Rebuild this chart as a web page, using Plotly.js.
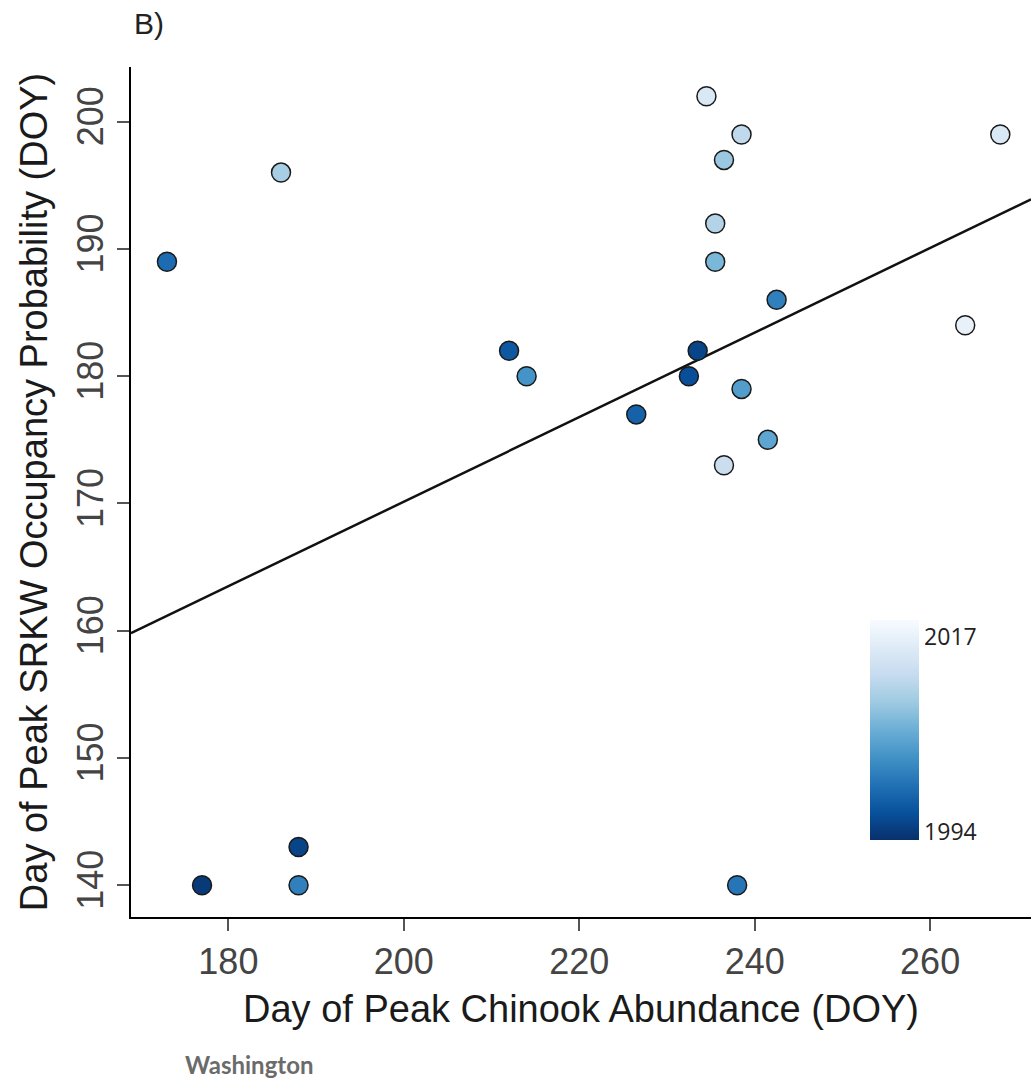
<!DOCTYPE html>
<html>
<head>
<meta charset="utf-8">
<script src="https://cdn.plot.ly/plotly-3.0.1.min.js"></script>
<style>
  html, body { margin: 0; padding: 0; background: #ffffff; }
  #chart { width: 1031px; height: 1078px; }
</style>
</head>
<body>
<div id="chart"></div>
<script>
// Day of peak Chinook abundance (x) and day of peak SRKW occupancy probability (y)
const chinookDOY = [173, 186, 177, 188, 188, 212, 214, 226.5, 232.5, 233.5, 234.5, 238.5, 236.5, 235.5, 235.5, 242.5, 238.5, 241.5, 236.5, 238, 268, 264];
const srkwDOY    = [189, 196, 140, 143, 140, 182, 180, 177,   180,   182,   202,   199,   197,   192,   189,   186,   179,   175,   173,   140, 199, 184];
const years      = [1999, 2010, 1994, 1995, 2001, 1997, 2003, 1998, 1996, 1995, 2015, 2012, 2009, 2011, 2007, 2001, 2004, 2005, 2013, 2000, 2015, 2017];

// Fitted regression line end points
const fitX = [168.9, 271.5];
const fitY = [159.8, 193.9];

// Colour bar labels
const yearTicks = [1994, 2017];

const blues = [
  [0.000, '#08306b'], [0.125, '#08519c'], [0.250, '#2171b5'], [0.375, '#4292c6'],
  [0.500, '#6baed6'], [0.625, '#9ecae1'], [0.750, '#c6dbef'], [0.875, '#deebf7'],
  [1.000, '#f7fbff']
];

const fitTrace = {
  type: 'scatter', mode: 'lines',
  x: fitX, y: fitY,
  line: { color: '#111111', width: 2.5 },
  hoverinfo: 'skip', showlegend: false
};

const pointTrace = {
  type: 'scatter', mode: 'markers',
  x: chinookDOY, y: srkwDOY,
  showlegend: false,
  marker: {
    size: 19,
    color: years,
    colorscale: blues,
    cmin: 1993.06, cmax: 2018.94,
    line: { color: '#1a1a1a', width: 1.5 },
    showscale: true,
    colorbar: {
      x: 0.821, xanchor: 'left', xref: 'paper',
      y: 0.0906, yanchor: 'bottom', yref: 'paper',
      len: 0.2588, lenmode: 'fraction',
      thickness: 49, thicknessmode: 'pixels',
      xpad: 0, ypad: 0,
      outlinewidth: 0,
      ticks: '', ticklen: 0,
      tickmode: 'array', tickvals: yearTicks, ticktext: yearTicks.map(String),
      tickfont: { family: 'Open Sans', size: 23, color: '#222222' }
    }
  }
};

const layout = {
  width: 1031, height: 1078,
  margin: { l: 131, r: 0, t: 67, b: 161, autoexpand: false },
  paper_bgcolor: '#ffffff', plot_bgcolor: '#ffffff',
  font: { family: 'Liberation Sans, Arial, sans-serif', color: '#4d4d4d' },
  xaxis: {
    range: [168.9, 271.5],
    tickmode: 'array', tickvals: [180, 200, 220, 240, 260],
    showgrid: false, zeroline: false,
    showline: true, linecolor: '#000000', linewidth: 2,
    ticks: 'outside', ticklen: 12, tickwidth: 2, tickcolor: '#555555',
    tickfont: { size: 36, color: '#444444' },
    title: { text: 'Day of Peak Chinook Abundance (DOY)', font: { size: 38, color: '#1a1a1a' }, standoff: 14 }
  },
  yaxis: {
    range: [137.5, 204.3],
    tickmode: 'array', tickvals: [140, 150, 160, 170, 180, 190, 200],
    tickangle: -90,
    showgrid: false, zeroline: false,
    showline: true, linecolor: '#000000', linewidth: 2,
    ticks: 'outside', ticklen: 12, tickwidth: 2, tickcolor: '#555555',
    tickfont: { size: 36, color: '#444444' },
    title: { text: 'Day of Peak SRKW Occupancy Probability (DOY)', font: { size: 38, color: '#1a1a1a' }, standoff: 10 }
  },
  annotations: [
    {
      text: 'B)', xref: 'paper', yref: 'paper', x: 0.0011, y: 1.0506,
      xanchor: 'left', yanchor: 'middle', showarrow: false,
      font: { family: 'Liberation Sans, Arial, sans-serif', size: 30, color: '#222222' }
    },
    {
      text: '<b>Washington</b>', xref: 'paper', yref: 'paper', x: 0.0578, y: -0.174,
      xanchor: 'left', yanchor: 'middle', showarrow: false,
      font: { family: 'Lato', size: 24, color: '#6b6b6b' }
    }
  ]
};

Plotly.newPlot('chart', [fitTrace, pointTrace], layout, { displayModeBar: false, staticPlot: true });
</script>
</body>
</html>
